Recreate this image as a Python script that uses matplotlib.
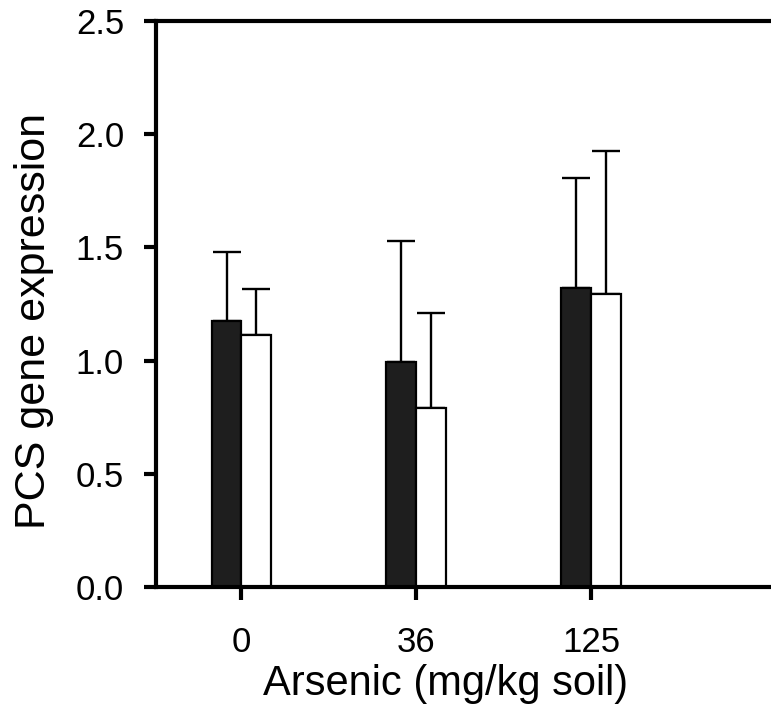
import numpy as np
import matplotlib
matplotlib.use("Agg")
import matplotlib.pyplot as plt

plt.rcParams['font.family'] = ['Liberation Sans', 'DejaVu Sans']

# data
doses = ["0", "36", "125"]
dark_means = [1.176, 0.994, 1.322]
dark_err = [0.304, 0.536, 0.486]
white_means = [1.112, 0.789, 1.294]
white_err = [0.203, 0.420, 0.632]

y_ticks = [0.0, 0.5, 1.0, 1.5, 2.0, 2.5]

fig = plt.figure(figsize=(7.71, 7.07), dpi=100)
ax = fig.add_axes([156 / 771, 1 - 587 / 707, 1 - 156 / 771, (587 - 21) / 707])

x = np.arange(len(doses))
w = 0.171
ax.bar(x - w / 2, dark_means, w, color="#1e1e1e", edgecolor="black", linewidth=1.6, zorder=2)
ax.bar(x + w / 2, white_means, w, color="white", edgecolor="black", linewidth=1.6, zorder=2)
ax.errorbar(x - w / 2, dark_means, yerr=[np.zeros(3), dark_err], fmt="none",
            ecolor="black", elinewidth=1.7, capsize=10, capthick=1.7, zorder=1)
ax.errorbar(x + w / 2, white_means, yerr=[np.zeros(3), white_err], fmt="none",
            ecolor="black", elinewidth=1.7, capsize=10, capthick=1.7, zorder=1)

ax.set_xlim(-0.489, 3.03)
ax.set_ylim(0, 2.5)
ax.set_xticks(x)
ax.set_xticklabels(doses)
ax.set_yticks(y_ticks)
ax.set_yticklabels([f"{v:.1f}" for v in y_ticks])

for side in ["left", "bottom", "top"]:
    ax.spines[side].set_linewidth(3)
ax.spines["right"].set_visible(False)
ax.tick_params(axis="both", direction="out", length=9, width=3, labelsize=25)
ax.tick_params(axis="x", pad=19)
ax.tick_params(axis="y", pad=14)

ax.set_xlabel("Arsenic (mg/kg soil)", fontsize=30, labelpad=4)
ax.set_ylabel("PCS gene expression", fontsize=31, labelpad=16)
ax.xaxis.label.set_x(0.4715)
ax.yaxis.label.set_y(0.47)

fig.savefig("out.png", dpi=100)
